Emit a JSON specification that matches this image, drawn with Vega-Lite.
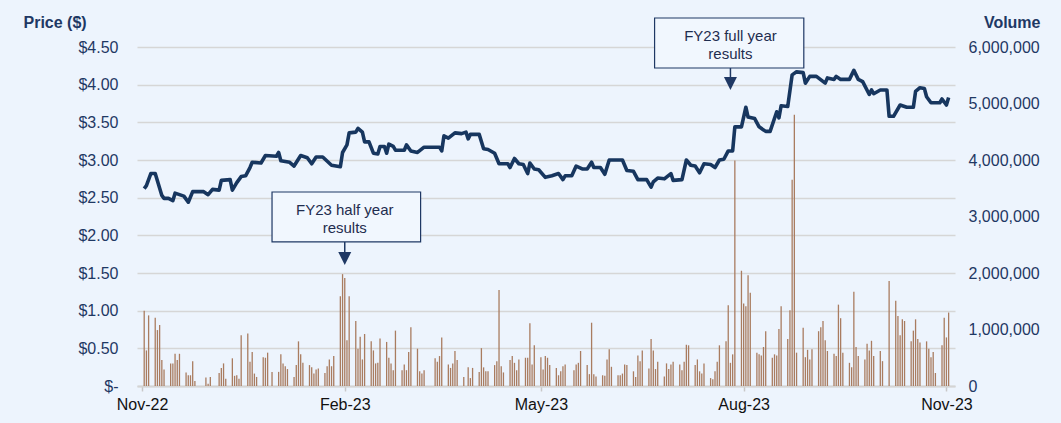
{
  "$schema": "https://vega.github.io/schema/vega-lite/v6.json",
  "width": 818,
  "height": 339,
  "autosize": {"type": "none"},
  "padding": {"left": 137, "top": 47, "right": 106, "bottom": 37},
  "background": "#edf4fd",
  "config": {
    "view": {"stroke": null},
    "font": "Liberation Sans",
    "axis": {"labelFont": "Liberation Sans", "titleFont": "Liberation Sans"}
  },
  "datasets": {
    "vol": [
      {"date":"2022-11-02","volume":1330000},{"date":"2022-11-03","volume":630000},{"date":"2022-11-04","volume":1250000},
      {"date":"2022-11-07","volume":1210000},{"date":"2022-11-08","volume":990000},{"date":"2022-11-09","volume":1080000},{"date":"2022-11-10","volume":460000},{"date":"2022-11-11","volume":290000},
      {"date":"2022-11-14","volume":400000},{"date":"2022-11-15","volume":400000},{"date":"2022-11-16","volume":570000},{"date":"2022-11-17","volume":460000},{"date":"2022-11-18","volume":570000},
      {"date":"2022-11-21","volume":240000},{"date":"2022-11-22","volume":190000},{"date":"2022-11-23","volume":190000},{"date":"2022-11-24","volume":440000},{"date":"2022-11-25","volume":90000},
      {"date":"2022-11-30","volume":150000},{"date":"2022-12-01","volume":40000},{"date":"2022-12-02","volume":160000},
      {"date":"2022-12-06","volume":230000},{"date":"2022-12-07","volume":320000},{"date":"2022-12-08","volume":400000},{"date":"2022-12-09","volume":130000},
      {"date":"2022-12-12","volume":490000},{"date":"2022-12-13","volume":180000},{"date":"2022-12-14","volume":190000},{"date":"2022-12-15","volume":130000},{"date":"2022-12-16","volume":900000},
      {"date":"2022-12-19","volume":930000},{"date":"2022-12-20","volume":430000},{"date":"2022-12-21","volume":600000},{"date":"2022-12-22","volume":220000},{"date":"2022-12-23","volume":160000},
      {"date":"2022-12-26","volume":510000},{"date":"2022-12-27","volume":500000},{"date":"2022-12-28","volume":590000},{"date":"2022-12-30","volume":250000},
      {"date":"2023-01-02","volume":250000},{"date":"2023-01-03","volume":560000},{"date":"2023-01-04","volume":400000},{"date":"2023-01-05","volume":350000},{"date":"2023-01-06","volume":300000},
      {"date":"2023-01-09","volume":160000},{"date":"2023-01-10","volume":370000},{"date":"2023-01-11","volume":790000},{"date":"2023-01-12","volume":560000},{"date":"2023-01-13","volume":410000},
      {"date":"2023-01-16","volume":370000},{"date":"2023-01-17","volume":330000},{"date":"2023-01-18","volume":220000},{"date":"2023-01-19","volume":290000},{"date":"2023-01-20","volume":310000},
      {"date":"2023-01-23","volume":230000},{"date":"2023-01-24","volume":350000},{"date":"2023-01-25","volume":470000},{"date":"2023-01-26","volume":350000},{"date":"2023-01-27","volume":530000},
      {"date":"2023-01-30","volume":1590000},{"date":"2023-01-31","volume":1980000},{"date":"2023-02-01","volume":1910000},{"date":"2023-02-02","volume":810000},{"date":"2023-02-03","volume":1590000},
      {"date":"2023-02-06","volume":1150000},{"date":"2023-02-07","volume":660000},{"date":"2023-02-08","volume":870000},{"date":"2023-02-09","volume":470000},{"date":"2023-02-10","volume":920000},
      {"date":"2023-02-13","volume":790000},{"date":"2023-02-14","volume":630000},{"date":"2023-02-15","volume":400000},{"date":"2023-02-16","volume":410000},{"date":"2023-02-17","volume":840000},
      {"date":"2023-02-20","volume":780000},{"date":"2023-02-21","volume":500000},{"date":"2023-02-22","volume":400000},{"date":"2023-02-23","volume":280000},{"date":"2023-02-24","volume":980000},
      {"date":"2023-02-27","volume":280000},{"date":"2023-02-28","volume":380000},{"date":"2023-03-01","volume":280000},{"date":"2023-03-02","volume":600000},{"date":"2023-03-03","volume":1040000},
      {"date":"2023-03-06","volume":660000},{"date":"2023-03-07","volume":260000},{"date":"2023-03-08","volume":220000},{"date":"2023-03-09","volume":280000},
      {"date":"2023-03-14","volume":490000},{"date":"2023-03-15","volume":430000},{"date":"2023-03-16","volume":530000},{"date":"2023-03-17","volume":860000},
      {"date":"2023-03-20","volume":380000},{"date":"2023-03-21","volume":320000},{"date":"2023-03-22","volume":400000},{"date":"2023-03-23","volume":620000},{"date":"2023-03-24","volume":460000},
      {"date":"2023-03-27","volume":160000},{"date":"2023-03-29","volume":330000},{"date":"2023-03-30","volume":140000},{"date":"2023-03-31","volume":320000},
      {"date":"2023-04-03","volume":250000},{"date":"2023-04-04","volume":670000},{"date":"2023-04-05","volume":330000},{"date":"2023-04-06","volume":260000},{"date":"2023-04-07","volume":260000},
      {"date":"2023-04-10","volume":370000},{"date":"2023-04-11","volume":440000},{"date":"2023-04-12","volume":1700000},{"date":"2023-04-13","volume":350000},{"date":"2023-04-14","volume":240000},
      {"date":"2023-04-17","volume":460000},{"date":"2023-04-18","volume":530000},{"date":"2023-04-19","volume":410000},{"date":"2023-04-20","volume":280000},{"date":"2023-04-21","volume":470000},
      {"date":"2023-04-24","volume":500000},{"date":"2023-04-25","volume":500000},{"date":"2023-04-26","volume":1110000},{"date":"2023-04-27","volume":380000},{"date":"2023-04-28","volume":720000},
      {"date":"2023-05-01","volume":510000},{"date":"2023-05-02","volume":290000},{"date":"2023-05-03","volume":530000},{"date":"2023-05-04","volume":500000},{"date":"2023-05-05","volume":370000},
      {"date":"2023-05-08","volume":320000},{"date":"2023-05-09","volume":190000},{"date":"2023-05-10","volume":260000},{"date":"2023-05-11","volume":350000},{"date":"2023-05-12","volume":380000},
      {"date":"2023-05-16","volume":280000},{"date":"2023-05-17","volume":380000},{"date":"2023-05-18","volume":410000},{"date":"2023-05-19","volume":620000},
      {"date":"2023-05-22","volume":370000},{"date":"2023-05-23","volume":210000},{"date":"2023-05-24","volume":1120000},{"date":"2023-05-25","volume":210000},{"date":"2023-05-26","volume":170000},
      {"date":"2023-05-29","volume":190000},{"date":"2023-05-30","volume":180000},{"date":"2023-05-31","volume":470000},{"date":"2023-06-01","volume":650000},{"date":"2023-06-02","volume":340000},
      {"date":"2023-06-05","volume":190000},{"date":"2023-06-06","volume":190000},{"date":"2023-06-07","volume":220000},{"date":"2023-06-08","volume":380000},{"date":"2023-06-09","volume":370000},
      {"date":"2023-06-12","volume":260000},{"date":"2023-06-13","volume":160000},{"date":"2023-06-14","volume":540000},{"date":"2023-06-15","volume":440000},{"date":"2023-06-16","volume":630000},
      {"date":"2023-06-19","volume":310000},{"date":"2023-06-20","volume":830000},{"date":"2023-06-21","volume":630000},{"date":"2023-06-22","volume":300000},{"date":"2023-06-23","volume":430000},
      {"date":"2023-06-26","volume":170000},{"date":"2023-06-27","volume":400000},{"date":"2023-06-28","volume":300000},{"date":"2023-06-29","volume":380000},{"date":"2023-06-30","volume":430000},
      {"date":"2023-07-03","volume":380000},{"date":"2023-07-04","volume":280000},{"date":"2023-07-05","volume":430000},{"date":"2023-07-06","volume":730000},{"date":"2023-07-07","volume":720000},
      {"date":"2023-07-10","volume":370000},{"date":"2023-07-11","volume":470000},{"date":"2023-07-12","volume":260000},{"date":"2023-07-13","volume":220000},{"date":"2023-07-14","volume":400000},
      {"date":"2023-07-17","volume":140000},{"date":"2023-07-18","volume":120000},{"date":"2023-07-19","volume":260000},{"date":"2023-07-20","volume":430000},{"date":"2023-07-21","volume":720000},
      {"date":"2023-07-24","volume":790000},{"date":"2023-07-25","volume":1430000},{"date":"2023-07-26","volume":410000},{"date":"2023-07-27","volume":560000},{"date":"2023-07-28","volume":3990000},
      {"date":"2023-07-31","volume":2040000},{"date":"2023-08-01","volume":1460000},{"date":"2023-08-02","volume":1410000},{"date":"2023-08-03","volume":1960000},{"date":"2023-08-04","volume":1650000},
      {"date":"2023-08-07","volume":590000},{"date":"2023-08-08","volume":560000},{"date":"2023-08-09","volume":540000},{"date":"2023-08-10","volume":690000},{"date":"2023-08-11","volume":970000},
      {"date":"2023-08-14","volume":500000},{"date":"2023-08-15","volume":560000},{"date":"2023-08-16","volume":540000},{"date":"2023-08-17","volume":1010000},{"date":"2023-08-18","volume":1410000},
      {"date":"2023-08-21","volume":830000},{"date":"2023-08-22","volume":1340000},{"date":"2023-08-23","volume":3650000},{"date":"2023-08-24","volume":4800000},{"date":"2023-08-25","volume":590000},
      {"date":"2023-08-28","volume":1030000},{"date":"2023-08-29","volume":510000},{"date":"2023-08-30","volume":640000},{"date":"2023-08-31","volume":470000},{"date":"2023-09-01","volume":650000},
      {"date":"2023-09-04","volume":970000},{"date":"2023-09-05","volume":1040000},{"date":"2023-09-06","volume":1150000},{"date":"2023-09-07","volume":810000},{"date":"2023-09-08","volume":620000},
      {"date":"2023-09-11","volume":570000},{"date":"2023-09-12","volume":530000},{"date":"2023-09-13","volume":1440000},{"date":"2023-09-14","volume":1200000},{"date":"2023-09-15","volume":590000},
      {"date":"2023-09-18","volume":410000},{"date":"2023-09-19","volume":330000},{"date":"2023-09-20","volume":1670000},{"date":"2023-09-21","volume":690000},{"date":"2023-09-22","volume":530000},
      {"date":"2023-09-25","volume":470000},{"date":"2023-09-26","volume":750000},{"date":"2023-09-27","volume":630000},{"date":"2023-09-28","volume":800000},{"date":"2023-09-29","volume":530000},
      {"date":"2023-10-02","volume":620000},{"date":"2023-10-03","volume":440000},{"date":"2023-10-06","volume":1860000},
      {"date":"2023-10-09","volume":1510000},{"date":"2023-10-10","volume":1240000},{"date":"2023-10-11","volume":900000},{"date":"2023-10-12","volume":1180000},{"date":"2023-10-13","volume":1150000},
      {"date":"2023-10-16","volume":790000},{"date":"2023-10-17","volume":980000},{"date":"2023-10-18","volume":1180000},{"date":"2023-10-19","volume":830000},{"date":"2023-10-20","volume":770000},
      {"date":"2023-10-23","volume":790000},{"date":"2023-10-24","volume":660000},{"date":"2023-10-25","volume":510000},{"date":"2023-10-26","volume":600000},{"date":"2023-10-27","volume":230000},
      {"date":"2023-10-30","volume":720000},{"date":"2023-10-31","volume":1210000},{"date":"2023-11-01","volume":860000},{"date":"2023-11-02","volume":1300000}
    ],
    "price": [
      {"date":"2022-11-02","price":2.62},{"date":"2022-11-03","price":2.66},{"date":"2022-11-05","price":2.82},{"date":"2022-11-07","price":2.82},
      {"date":"2022-11-10","price":2.53},{"date":"2022-11-11","price":2.49},{"date":"2022-11-13","price":2.49},{"date":"2022-11-15","price":2.46},
      {"date":"2022-11-16","price":2.56},{"date":"2022-11-19","price":2.53},{"date":"2022-11-20","price":2.52},{"date":"2022-11-22","price":2.44},
      {"date":"2022-11-24","price":2.58},{"date":"2022-11-29","price":2.58},{"date":"2022-12-01","price":2.54},{"date":"2022-12-03","price":2.61},
      {"date":"2022-12-06","price":2.60},{"date":"2022-12-07","price":2.73},{"date":"2022-12-11","price":2.74},{"date":"2022-12-12","price":2.60},
      {"date":"2022-12-14","price":2.70},{"date":"2022-12-16","price":2.78},{"date":"2022-12-18","price":2.79},{"date":"2022-12-20","price":2.90},
      {"date":"2022-12-21","price":2.97},{"date":"2022-12-25","price":2.96},{"date":"2022-12-27","price":3.06},{"date":"2023-01-01","price":3.05},
      {"date":"2023-01-02","price":3.10},{"date":"2023-01-03","price":2.99},{"date":"2023-01-07","price":2.97},{"date":"2023-01-09","price":2.92},
      {"date":"2023-01-12","price":3.06},{"date":"2023-01-15","price":3.03},{"date":"2023-01-17","price":2.95},{"date":"2023-01-19","price":3.04},
      {"date":"2023-01-22","price":3.04},{"date":"2023-01-26","price":2.93},{"date":"2023-01-30","price":2.91},{"date":"2023-01-31","price":3.10},
      {"date":"2023-02-02","price":3.20},{"date":"2023-02-03","price":3.36},{"date":"2023-02-06","price":3.37},{"date":"2023-02-07","price":3.42},
      {"date":"2023-02-09","price":3.37},{"date":"2023-02-10","price":3.24},{"date":"2023-02-12","price":3.24},{"date":"2023-02-14","price":3.09},
      {"date":"2023-02-16","price":3.08},{"date":"2023-02-17","price":3.18},{"date":"2023-02-19","price":3.18},{"date":"2023-02-20","price":3.09},
      {"date":"2023-02-21","price":3.21},{"date":"2023-02-23","price":3.18},{"date":"2023-02-24","price":3.13},{"date":"2023-02-28","price":3.13},
      {"date":"2023-03-01","price":3.20},{"date":"2023-03-03","price":3.12},{"date":"2023-03-06","price":3.10},{"date":"2023-03-09","price":3.17},
      {"date":"2023-03-16","price":3.17},{"date":"2023-03-17","price":3.12},{"date":"2023-03-18","price":3.32},{"date":"2023-03-20","price":3.29},
      {"date":"2023-03-23","price":3.36},{"date":"2023-03-26","price":3.35},{"date":"2023-03-28","price":3.37},{"date":"2023-03-29","price":3.28},
      {"date":"2023-03-30","price":3.34},{"date":"2023-04-03","price":3.34},{"date":"2023-04-05","price":3.15},{"date":"2023-04-07","price":3.14},
      {"date":"2023-04-10","price":3.09},{"date":"2023-04-12","price":2.95},{"date":"2023-04-16","price":2.95},{"date":"2023-04-17","price":2.90},
      {"date":"2023-04-19","price":3.02},{"date":"2023-04-21","price":2.95},{"date":"2023-04-23","price":2.94},{"date":"2023-04-25","price":2.82},
      {"date":"2023-04-26","price":2.96},{"date":"2023-04-28","price":2.88},{"date":"2023-04-30","price":2.87},{"date":"2023-05-03","price":2.77},
      {"date":"2023-05-06","price":2.79},{"date":"2023-05-09","price":2.82},{"date":"2023-05-11","price":2.74},{"date":"2023-05-12","price":2.79},
      {"date":"2023-05-15","price":2.79},{"date":"2023-05-17","price":2.92},{"date":"2023-05-20","price":2.88},{"date":"2023-05-22","price":2.88},
      {"date":"2023-05-24","price":2.97},{"date":"2023-05-25","price":2.90},{"date":"2023-05-28","price":2.90},{"date":"2023-05-30","price":2.81},
      {"date":"2023-06-01","price":3.00},{"date":"2023-06-07","price":3.00},{"date":"2023-06-09","price":2.86},{"date":"2023-06-12","price":2.85},
      {"date":"2023-06-14","price":2.74},{"date":"2023-06-18","price":2.74},{"date":"2023-06-20","price":2.64},{"date":"2023-06-21","price":2.71},
      {"date":"2023-06-23","price":2.76},{"date":"2023-06-26","price":2.75},{"date":"2023-06-29","price":2.82},{"date":"2023-06-30","price":2.73},
      {"date":"2023-07-04","price":2.74},{"date":"2023-07-06","price":3.00},{"date":"2023-07-08","price":2.93},{"date":"2023-07-10","price":2.92},
      {"date":"2023-07-12","price":2.83},{"date":"2023-07-14","price":2.95},{"date":"2023-07-17","price":2.94},{"date":"2023-07-19","price":2.90},
      {"date":"2023-07-21","price":3.00},{"date":"2023-07-23","price":3.01},{"date":"2023-07-25","price":3.12},{"date":"2023-07-27","price":3.12},
      {"date":"2023-07-28","price":3.44},{"date":"2023-07-31","price":3.44},{"date":"2023-08-02","price":3.70},{"date":"2023-08-03","price":3.57},
      {"date":"2023-08-06","price":3.55},{"date":"2023-08-08","price":3.44},{"date":"2023-08-11","price":3.38},{"date":"2023-08-13","price":3.38},
      {"date":"2023-08-16","price":3.64},{"date":"2023-08-17","price":3.56},{"date":"2023-08-18","price":3.72},{"date":"2023-08-21","price":3.71},
      {"date":"2023-08-23","price":4.13},{"date":"2023-08-25","price":4.17},{"date":"2023-08-28","price":4.16},{"date":"2023-08-29","price":4.02},
      {"date":"2023-08-31","price":4.11},{"date":"2023-09-03","price":4.11},{"date":"2023-09-07","price":4.02},{"date":"2023-09-08","price":4.09},
      {"date":"2023-09-11","price":4.07},{"date":"2023-09-12","price":4.11},{"date":"2023-09-14","price":4.07},{"date":"2023-09-18","price":4.07},
      {"date":"2023-09-20","price":4.19},{"date":"2023-09-22","price":4.07},{"date":"2023-09-24","price":4.04},{"date":"2023-09-27","price":3.87},
      {"date":"2023-09-28","price":3.93},{"date":"2023-09-29","price":3.88},{"date":"2023-10-02","price":3.93},{"date":"2023-10-05","price":3.93},
      {"date":"2023-10-06","price":3.58},{"date":"2023-10-08","price":3.58},{"date":"2023-10-11","price":3.73},{"date":"2023-10-14","price":3.70},
      {"date":"2023-10-17","price":3.70},{"date":"2023-10-18","price":3.91},{"date":"2023-10-20","price":3.96},{"date":"2023-10-22","price":3.95},
      {"date":"2023-10-23","price":3.84},{"date":"2023-10-25","price":3.76},{"date":"2023-10-29","price":3.76},{"date":"2023-10-30","price":3.81},
      {"date":"2023-11-01","price":3.73},{"date":"2023-11-02","price":3.83}
    ],
    "notes": [
      {"label":"FY23 half year\nresults","start":"2022-12-30T00:00:00Z","end":"2023-03-07T10:00:00Z","at":"2023-02-01T00:00:00Z","top":2.575,"bottom":1.912,"first":2.336,"head":1.693},
      {"label":"FY23 full year\nresults","start":"2023-06-21T14:00:00Z","end":"2023-08-28T07:00:00Z","at":"2023-07-26T00:00:00Z","top":4.885,"bottom":4.221,"first":4.646,"head":4.016}
    ]
  },
  "layer": [
    {
      "data": {"name": "vol"},
      "mark": {"type": "bar", "size": 1.3, "color": "#a97c60"},
      "encoding": {
        "x": {
          "field": "date", "type": "temporal",
          "scale": {"type": "utc", "domain": [{"year": 2022, "month": 11, "date": 1, "utc": true}, {"year": 2023, "month": 11, "date": 2, "hours": 15, "utc": true}]},
          "axis": {
            "title": null,
            "values": [
              {"year": 2022, "month": 11, "date": 1, "utc": true},
              {"year": 2023, "month": 2, "date": 1, "utc": true},
              {"year": 2023, "month": 5, "date": 1, "utc": true},
              {"year": 2023, "month": 8, "date": 1, "utc": true},
              {"year": 2023, "month": 11, "date": 1, "utc": true}
            ],
            "format": "%b-%y",
            "labelFontSize": 16, "labelColor": "#111111", "labelPadding": 5,
            "ticks": true, "tickSize": 5, "tickColor": "#c8c8c8", "tickWidth": 1.5,
            "domain": true, "domainColor": "#d4d4d4", "domainWidth": 2,
            "grid": false, "labelFlush": false
          }
        },
        "y": {
          "field": "volume", "type": "quantitative",
          "scale": {"domain": [0, 6000000], "nice": false},
          "axis": {
            "orient": "right",
            "values": [0, 1000000, 2000000, 3000000, 4000000, 5000000, 6000000],
            "format": ",d",
            "title": "Volume", "titleAngle": 0, "titleAlign": "right", "titleBaseline": "middle",
            "titleX": 85, "titleY": -25, "titleFontSize": 16, "titleFontWeight": "bold", "titleColor": "#1f3864",
            "labelFontSize": 16, "labelColor": "#1f3864", "labelAlign": "left", "labelPadding": 13,
            "ticks": false, "domain": false, "grid": false
          }
        }
      }
    },
    {
      "layer": [
        {
          "data": {"name": "price"},
          "mark": {"type": "line", "color": "#17365f", "strokeWidth": 3.6, "strokeJoin": "round"},
          "encoding": {
            "x": {"field": "date", "type": "temporal"},
            "y": {
              "field": "price", "type": "quantitative",
              "scale": {"domain": [0, 4.5], "nice": false},
              "axis": {
                "orient": "left",
                "values": [0, 0.5, 1, 1.5, 2, 2.5, 3, 3.5, 4, 4.5],
                "labelExpr": "datum.value == 0 ? '$-' : '$' + format(datum.value, '.2f')",
                "labelOverlap": false,
                "title": "Price ($)", "titleAngle": 0, "titleAlign": "left", "titleBaseline": "middle",
                "titleX": -114, "titleY": -25, "titleFontSize": 16, "titleFontWeight": "bold", "titleColor": "#1f3864",
                "labelFontSize": 16, "labelColor": "#1f3864", "labelPadding": 19,
                "ticks": false, "domain": false,
                "grid": true, "gridColor": "#d6d6d6", "gridWidth": 1.5
              }
            }
          }
        },
        {
          "data": {"name": "notes"},
          "mark": {"type": "rule", "color": "#1f3864", "strokeWidth": 1.5},
          "encoding": {
            "x": {"field": "at", "type": "temporal"},
            "y": {
              "field": "bottom", "type": "quantitative",
              "scale": {"domain": [0, 4.5], "nice": false},
              "axis": {
                "orient": "left",
                "values": [0, 0.5, 1, 1.5, 2, 2.5, 3, 3.5, 4, 4.5],
                "labelExpr": "datum.value == 0 ? '$-' : '$' + format(datum.value, '.2f')",
                "labelOverlap": false,
                "title": "Price ($)", "titleAngle": 0, "titleAlign": "left", "titleBaseline": "middle",
                "titleX": -114, "titleY": -25, "titleFontSize": 16, "titleFontWeight": "bold", "titleColor": "#1f3864",
                "labelFontSize": 16, "labelColor": "#1f3864", "labelPadding": 19,
                "ticks": false, "domain": false,
                "grid": true, "gridColor": "#d6d6d6", "gridWidth": 1.5
              }
            },
            "y2": {"field": "head"}
          }
        },
        {
          "data": {"name": "notes"},
          "mark": {"type": "point", "shape": "M-1,-1L1,-1L0,1Z", "filled": true, "size": 169, "color": "#1f3864", "opacity": 1},
          "encoding": {
            "x": {"field": "at", "type": "temporal"},
            "y": {
              "field": "head", "type": "quantitative",
              "scale": {"domain": [0, 4.5], "nice": false},
              "axis": {
                "orient": "left",
                "values": [0, 0.5, 1, 1.5, 2, 2.5, 3, 3.5, 4, 4.5],
                "labelExpr": "datum.value == 0 ? '$-' : '$' + format(datum.value, '.2f')",
                "labelOverlap": false,
                "title": "Price ($)", "titleAngle": 0, "titleAlign": "left", "titleBaseline": "middle",
                "titleX": -114, "titleY": -25, "titleFontSize": 16, "titleFontWeight": "bold", "titleColor": "#1f3864",
                "labelFontSize": 16, "labelColor": "#1f3864", "labelPadding": 19,
                "ticks": false, "domain": false,
                "grid": true, "gridColor": "#d6d6d6", "gridWidth": 1.5
              }
            }
          }
        },
        {
          "data": {"name": "notes"},
          "mark": {"type": "rect", "fill": "#f1f7fe", "stroke": "#1f3864", "strokeWidth": 1.2},
          "encoding": {
            "x": {"field": "start", "type": "temporal"},
            "x2": {"field": "end"},
            "y": {
              "field": "top", "type": "quantitative",
              "scale": {"domain": [0, 4.5], "nice": false},
              "axis": {
                "orient": "left",
                "values": [0, 0.5, 1, 1.5, 2, 2.5, 3, 3.5, 4, 4.5],
                "labelExpr": "datum.value == 0 ? '$-' : '$' + format(datum.value, '.2f')",
                "labelOverlap": false,
                "title": "Price ($)", "titleAngle": 0, "titleAlign": "left", "titleBaseline": "middle",
                "titleX": -114, "titleY": -25, "titleFontSize": 16, "titleFontWeight": "bold", "titleColor": "#1f3864",
                "labelFontSize": 16, "labelColor": "#1f3864", "labelPadding": 19,
                "ticks": false, "domain": false,
                "grid": true, "gridColor": "#d6d6d6", "gridWidth": 1.5
              }
            },
            "y2": {"field": "bottom"}
          }
        },
        {
          "data": {"name": "notes"},
          "mark": {"type": "text", "lineBreak": "\n", "align": "center", "baseline": "middle", "fontSize": 15, "lineHeight": 18, "color": "#1f2d4f", "font": "Liberation Sans"},
          "encoding": {
            "x": {"field": "at", "type": "temporal"},
            "y": {
              "field": "first", "type": "quantitative",
              "scale": {"domain": [0, 4.5], "nice": false},
              "axis": {
                "orient": "left",
                "values": [0, 0.5, 1, 1.5, 2, 2.5, 3, 3.5, 4, 4.5],
                "labelExpr": "datum.value == 0 ? '$-' : '$' + format(datum.value, '.2f')",
                "labelOverlap": false,
                "title": "Price ($)", "titleAngle": 0, "titleAlign": "left", "titleBaseline": "middle",
                "titleX": -114, "titleY": -25, "titleFontSize": 16, "titleFontWeight": "bold", "titleColor": "#1f3864",
                "labelFontSize": 16, "labelColor": "#1f3864", "labelPadding": 19,
                "ticks": false, "domain": false,
                "grid": true, "gridColor": "#d6d6d6", "gridWidth": 1.5
              }
            },
            "text": {"field": "label"}
          }
        }
      ]
    }
  ],
  "resolve": {"scale": {"y": "independent"}, "axis": {"y": "independent"}}
}
